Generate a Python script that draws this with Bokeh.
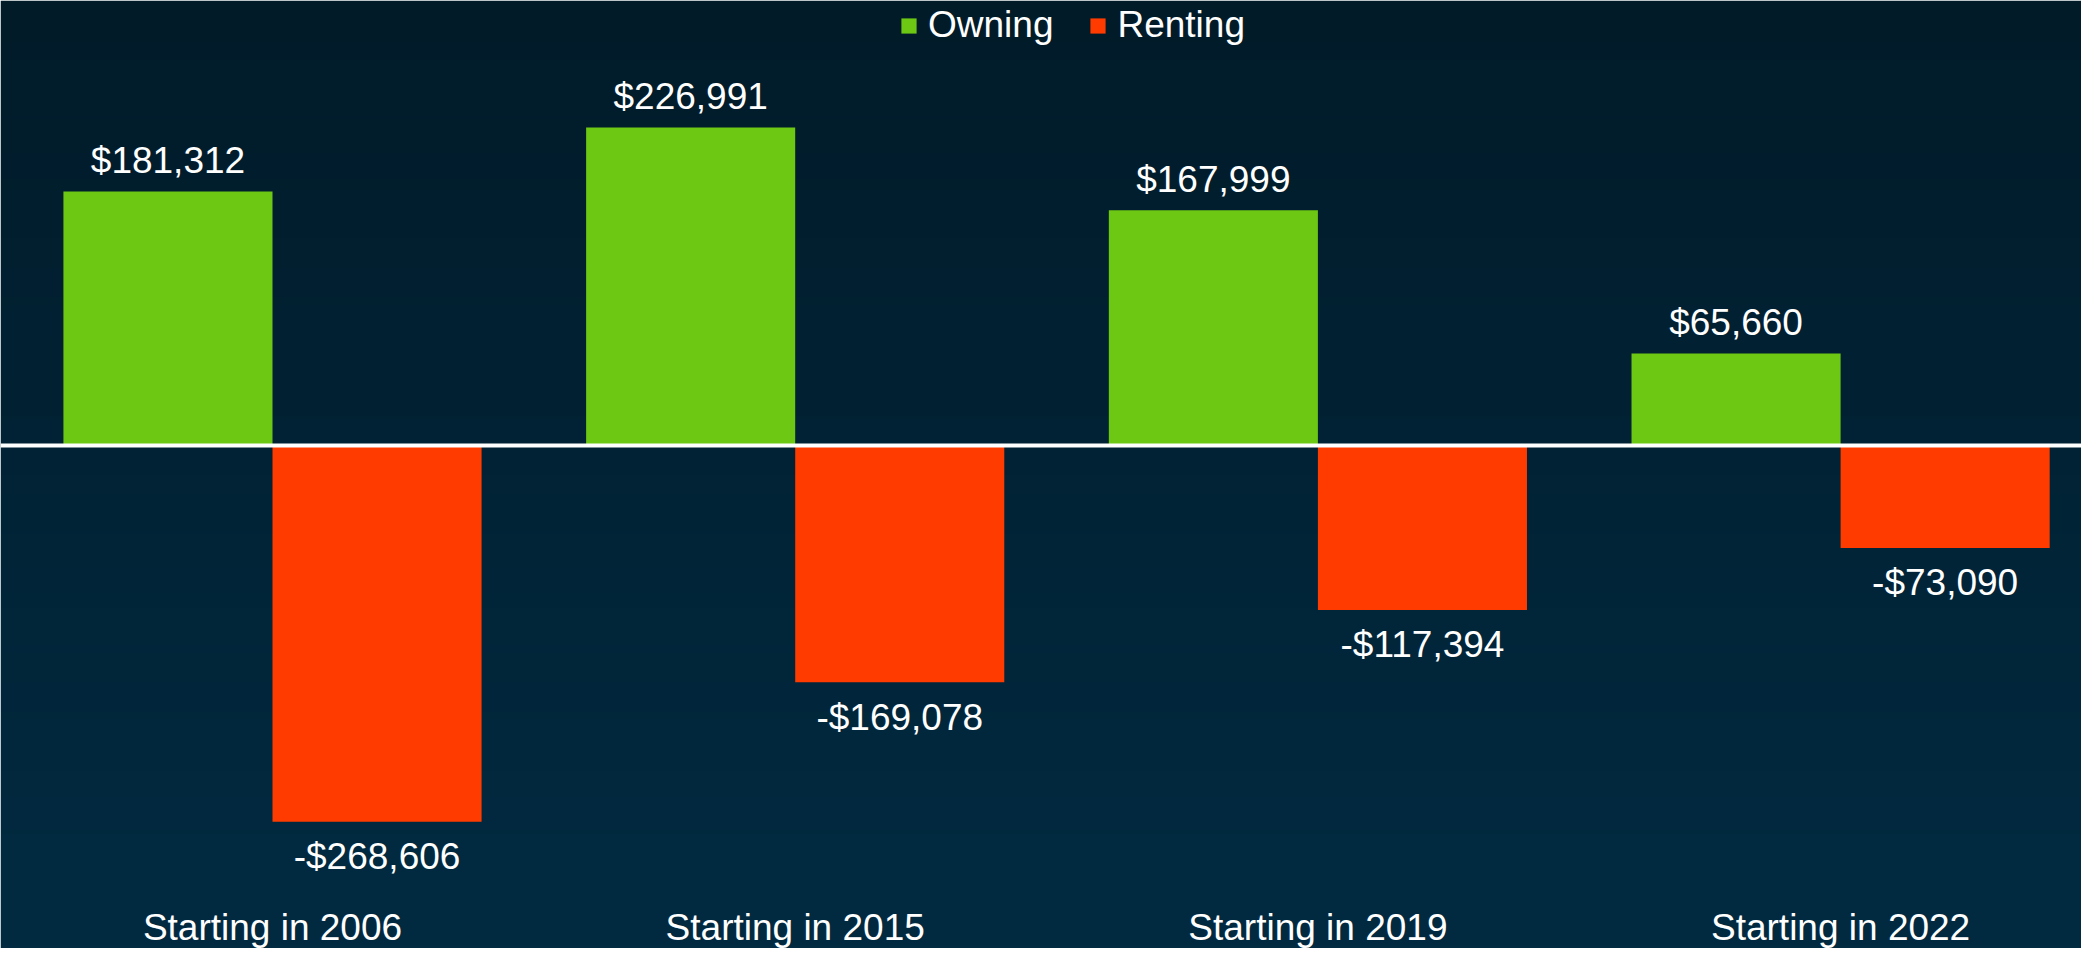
import numpy as np
from bokeh.plotting import figure
from bokeh.models import ColumnDataSource, Span, Legend, LegendItem, Range1d
from bokeh.core.properties import value
from bokeh.embed import file_html
from bokeh.resources import INLINE

categories = ["Starting in 2006", "Starting in 2015", "Starting in 2019", "Starting in 2022"]
owning = [181312, 226991, 167999, 65660]
renting = [-268606, -169078, -117394, -73090]

GREEN = "#6cc813"
RED = "#ff3b00"
FONT = "Liberation Sans"
FS = "37px"

W, H = 2081, 948
k = 254 / 181312  # px per dollar
ZERO_PX = 445
y_end = ZERO_PX / k
y_start = -(H - ZERO_PX) / k
px_per_cat = 522.7
x_start = -(272 / px_per_cat)
x_end = x_start + W / px_per_cat

p = figure(width=W, height=H, output_backend="svg", toolbar_location=None,
           x_range=Range1d(x_start, x_end), y_range=Range1d(y_start, y_end),
           min_border=0, border_fill_color="#011f30")
p.axis.visible = False
p.grid.visible = False
p.outline_line_color = None

# vertical background gradient
top = np.array([1, 27, 41]); bot = np.array([2, 43, 66])
n = 256
t = np.linspace(0, 1, n)[:, None]
cols = (bot * (1 - t) + top * t).astype(np.uint32)  # row 0 = bottom
img = np.zeros((n, 1), dtype=np.uint32)
view = img.view(dtype=np.uint8).reshape((n, 1, 4))
view[:, 0, 0] = cols[:, 0]
view[:, 0, 1] = cols[:, 1]
view[:, 0, 2] = cols[:, 2]
view[:, 0, 3] = 255
p.image_rgba(image=[img], x=x_start, y=y_start, dw=x_end - x_start, dh=y_end - y_start)

xs = np.arange(len(categories))
src = ColumnDataSource(dict(
    x=xs, xo=xs - 0.2, xr=xs + 0.2, cat=categories,
    own=owning, rent=renting,
    own_lbl=[f"${v:,}" for v in owning],
    rent_lbl=[f"-${-v:,}" for v in renting],
))

r_own = p.vbar(x="xo", top="own", bottom=0, width=0.4, source=src,
               fill_color=GREEN, line_color=None)
r_rent = p.vbar(x="xr", top=0, bottom="rent", width=0.4, source=src,
                fill_color=RED, line_color=None)

p.add_layout(Span(location=0, dimension="width", line_color="white", line_width=4))

p.text(x="xo", y="own", text="own_lbl", source=src, text_align="center",
       text_baseline="alphabetic", y_offset=-31, text_color="white",
       text_font=value(FONT), text_font_size=FS)
p.text(x="xr", y="rent", text="rent_lbl", source=src, text_align="center",
       text_baseline="alphabetic", y_offset=35, text_color="white",
       text_font=value(FONT), text_font_size=FS)
p.text(x="x", y=y_start, text="cat", source=src, text_align="center",
       text_baseline="alphabetic", y_offset=-21, text_color="white",
       text_font=value(FONT), text_font_size=FS)

legend = Legend(items=[LegendItem(label="Owning", renderers=[r_own]),
                       LegendItem(label="Renting", renderers=[r_rent])],
                orientation="horizontal", location=(899, 902),
                background_fill_alpha=0, border_line_color=None,
                label_text_color="white", label_text_font=FONT,
                label_text_font_size=FS, glyph_width=19, glyph_height=19,
                label_standoff=10, spacing=35, padding=0, margin=0)
p.add_layout(legend)

open("out.html", "w").write(file_html(p, INLINE))
